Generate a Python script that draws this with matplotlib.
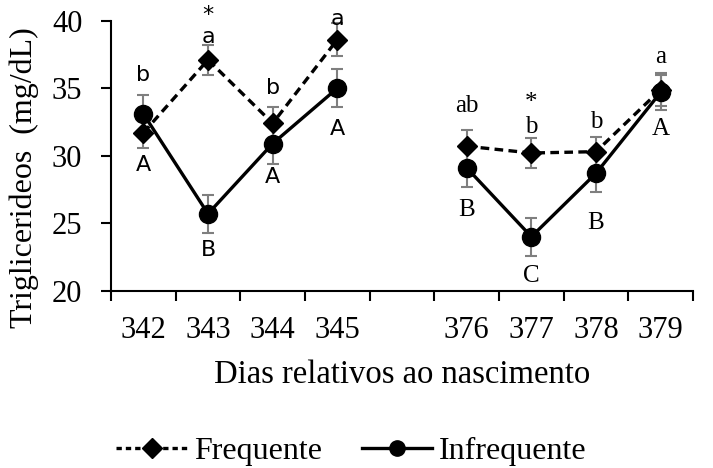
import numpy as np
import matplotlib
matplotlib.use("Agg")
import matplotlib.pyplot as plt
from matplotlib.lines import Line2D

plt.rcParams['font.family'] = ['Liberation Serif', 'DejaVu Serif']

dias = ['342', '343', '344', '345', '', '376', '377', '378', '379']

frequente = [31.7, 37.1, 32.4, 38.6, np.nan, 30.7, 30.2, 30.3, 34.9]
frequente_err = [1.1, 1.1, 1.2, 1.2, np.nan, 1.2, 1.1, 1.1, 1.2]
infrequente = [33.1, 25.7, 30.9, 35.0, np.nan, 29.1, 24.0, 28.7, 34.7]
infrequente_err = [1.4, 1.4, 1.5, 1.4, np.nan, 1.4, 1.4, 1.4, 1.3]

letras_freq = ['b', 'a', 'b', 'a', '', 'ab', 'b', 'b', 'a']
letras_infreq = ['A', 'B', 'A', 'A', '', 'B', 'C', 'B', 'A']
asterisco = ['', '*', '', '', '', '', '*', '', '']

# y position of each letter (data units)
pos_freq = [36.0, 38.8, 35.0, 40.1, 0, 33.7, 32.1, 32.5, 37.3]
pos_infreq = [29.3, 23.0, 28.4, 32.0, 0, 26.0, 21.1, 25.0, 32.0]
pos_ast = [0, 40.4, 0, 0, 0, 0, 33.9, 0, 0]

x = np.arange(len(dias))

fig = plt.figure(figsize=(7.13, 4.68), dpi=100)
ax = fig.add_axes([0.1557, 0.3788, 0.8163, 0.577])

# plot each block separately so the gap stays empty
for seg in [slice(0, 4), slice(5, 9)]:
    ax.errorbar(x[seg], np.array(frequente)[seg], yerr=np.array(frequente_err)[seg],
                fmt='none', ecolor='#7f7f7f', elinewidth=1.5, capsize=4, capthick=1.5, zorder=2)
    ax.errorbar(x[seg], np.array(infrequente)[seg], yerr=np.array(infrequente_err)[seg],
                fmt='none', ecolor='#7f7f7f', elinewidth=1.5, capsize=4, capthick=1.5, zorder=2)
    ax.plot(x[seg], np.array(frequente)[seg], color='black', ls=(0, (2.6, 1.6)), lw=2.4,
            marker='D', ms=10.5, zorder=3)
    ax.plot(x[seg], np.array(infrequente)[seg], color='black', ls='-', lw=2.4,
            marker='o', ms=13, zorder=4)

# letters: sans in the first block, serif in the second
for i in range(len(dias)):
    if i < 4:
        fam, fs = ['DejaVu Sans'], 16
    else:
        fam, fs = ['Liberation Serif'], 18
    if letras_freq[i]:
        ax.text(x[i], pos_freq[i], letras_freq[i], ha='center', va='center',
                fontsize=fs, family=fam, clip_on=False)
    if letras_infreq[i]:
        ax.text(x[i], pos_infreq[i], letras_infreq[i], ha='center', va='center',
                fontsize=fs, family=fam, clip_on=False)
    if asterisco[i]:
        ax.text(x[i], pos_ast[i], asterisco[i], ha='center', va='center',
                fontsize=fs, family=fam, clip_on=False)

ax.set_xlim(-0.5, 8.5)
ax.set_ylim(20, 40)
ax.set_yticks([20, 25, 30, 35, 40])
ax.set_xticks(np.arange(-0.5, 9, 1))
ax.set_xticklabels([])
ax.set_xticks(x, minor=True)
ax.set_xticklabels(dias, minor=True)
ax.tick_params(axis='x', which='major', direction='out', length=7, width=1.5)
ax.tick_params(axis='x', which='minor', length=0, labelsize=22, pad=18.5)
ax.tick_params(axis='y', direction='out', length=7, width=1.5, labelsize=22, pad=13.7)

for s in ['top', 'right']:
    ax.spines[s].set_visible(False)
for s in ['left', 'bottom']:
    ax.spines[s].set_linewidth(1.5)

ax.set_ylabel('Triglicerideos  (mg/dL)', fontsize=23)
ax.yaxis.set_label_coords(-0.124, 0.419)
ax.set_xlabel('Dias relativos ao nascimento', fontsize=23.5, labelpad=10)

handles = [Line2D([], [], color='black', ls=(0, (1.6, 1.2)), lw=2.4, marker='D', ms=10.5),
           Line2D([], [], color='black', ls='-', lw=2.4, marker='o', ms=11)]
fig.legend(handles, ['Frequente', 'Infrequente'], loc='center', bbox_to_anchor=(0.493, 0.036),
           ncol=2, frameon=False, fontsize=23, handlelength=2.2, handletextpad=0.22,
           columnspacing=1.25, borderpad=0, borderaxespad=0)

fig.savefig('out.png', dpi=100)
